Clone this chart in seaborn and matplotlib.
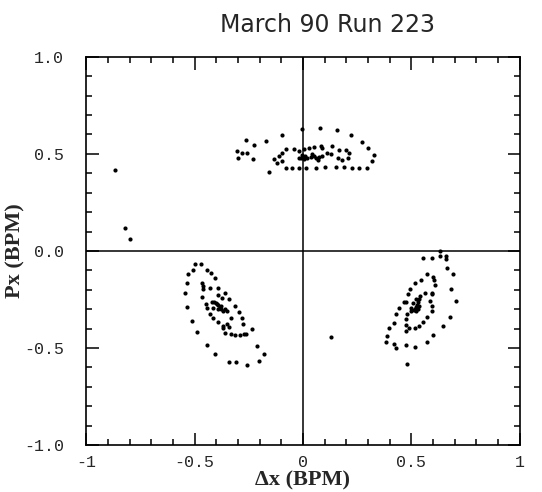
# phase space plot of the three islands, march 90 run 223
import matplotlib.pyplot as plt
import numpy as np
import pandas as pd
import seaborn as sns
from matplotlib.ticker import MultipleLocator

# island near (0, 0.5)
top_x = [-0.265, -0.227, -0.172, -0.097, -0.005, 0.079, 0.158, 0.223, 0.274,
         0.302, 0.329, 0.320, 0.297, 0.260, 0.227, 0.190, 0.153, 0.102, 0.060,
         0.014, -0.019, -0.051, -0.079, -0.158, -0.306, -0.283, -0.260, -0.302,
         -0.232, -0.135, -0.111, -0.097, -0.079, -0.042, -0.019, 0.005, 0.028,
         0.051, 0.084, 0.135, 0.167, 0.200, 0.213, 0.209, 0.181, 0.162, 0.130,
         0.111, 0.088, -0.019, 0.005, -0.097, -0.121,
         0.0, 0.01, 0.02, 0.035, 0.05, 0.06, 0.075, 0.09, -0.01, 0.04, 0.07,
         -0.005]
top_y = [0.572, 0.546, 0.567, 0.598, 0.629, 0.634, 0.624, 0.598, 0.562,
         0.531, 0.495, 0.464, 0.428, 0.428, 0.428, 0.433, 0.433, 0.433, 0.428,
         0.428, 0.428, 0.428, 0.428, 0.407, 0.515, 0.505, 0.505, 0.479,
         0.474, 0.474, 0.490, 0.505, 0.526, 0.526, 0.515, 0.526, 0.531,
         0.536, 0.541, 0.541, 0.521, 0.521, 0.505, 0.479, 0.469, 0.479, 0.500,
         0.505, 0.531, 0.479, 0.474, 0.464, 0.454,
         0.485, 0.49, 0.48, 0.485, 0.49, 0.48, 0.485, 0.49, 0.48, 0.50, 0.47,
         0.495]

# island lower left
left_x = [-0.498, -0.472, -0.509, -0.444, -0.424, -0.529, -0.405, -0.537,
          -0.542, -0.534, -0.512, -0.487, -0.441, -0.405, -0.343, -0.308,
          -0.258, -0.204, -0.181, -0.212, -0.235, -0.263, -0.271, -0.289,
          -0.312, -0.331, -0.359,
          -0.463, -0.463, -0.464, -0.428, -0.393, -0.359, -0.394, -0.374,
          -0.343, -0.467, -0.447, -0.312, -0.297, -0.282, -0.278, -0.444,
          -0.428, -0.413, -0.393, -0.367, -0.343, -0.333, -0.351, -0.371,
          -0.413,
          -0.42, -0.41, -0.40, -0.39, -0.385, -0.38, -0.37, -0.36, -0.39,
          -0.38, -0.35, -0.395]
left_y = [-0.069, -0.069, -0.098, -0.096, -0.112, -0.117, -0.138, -0.163,
          -0.215, -0.287, -0.361, -0.419, -0.485, -0.532, -0.572, -0.571,
          -0.588, -0.567, -0.529, -0.490, -0.404, -0.429, -0.429, -0.433,
          -0.433, -0.429, -0.424,
          -0.180, -0.197, -0.165, -0.192, -0.189, -0.215, -0.227, -0.244,
          -0.249, -0.237, -0.272, -0.284, -0.313, -0.344, -0.378, -0.295,
          -0.323, -0.347, -0.366, -0.387, -0.392, -0.344, -0.378, -0.395,
          -0.292,
          -0.265, -0.265, -0.27, -0.28, -0.29, -0.30, -0.31, -0.30, -0.30,
          -0.285, -0.31, -0.275]

# island lower right
right_x = [0.631, 0.631, 0.659, 0.662, 0.597, 0.554, 0.665, 0.690, 0.685,
           0.704, 0.677, 0.646, 0.600, 0.572, 0.515, 0.473, 0.430, 0.418,
           0.384, 0.387, 0.399, 0.419, 0.427, 0.445, 0.465, 0.484, 0.492,
           0.515, 0.543, 0.574, 0.600, 0.603, 0.608, 0.481,
           0.561, 0.593, 0.597, 0.585, 0.593, 0.593, 0.574, 0.554, 0.534,
           0.515, 0.489, 0.477, 0.477, 0.473, 0.479, 0.473, 0.500, 0.507,
           0.520, 0.538,
           0.535, 0.53, 0.525, 0.52, 0.515, 0.51, 0.52, 0.53, 0.535, 0.50]
right_y = [0.000, -0.026, -0.026, -0.043, -0.038, -0.038, -0.086, -0.120,
           -0.197, -0.258, -0.340, -0.387, -0.433, -0.469, -0.495, -0.486,
           -0.502, -0.478, -0.469, -0.438, -0.395, -0.370, -0.323, -0.295,
           -0.261, -0.223, -0.197, -0.163, -0.151, -0.117, -0.132, -0.151,
           -0.175, -0.581,
           -0.215, -0.215, -0.223, -0.258, -0.284, -0.309, -0.340, -0.364,
           -0.387, -0.395, -0.395, -0.412, -0.381, -0.352, -0.323, -0.261,
           -0.292, -0.266, -0.249, -0.234,
           -0.25, -0.265, -0.28, -0.29, -0.30, -0.305, -0.31, -0.30, -0.285,
           -0.31]

# stray points
stray_x = [-0.866, -0.823, -0.797, 0.130]
stray_y = [0.416, 0.120, 0.060, -0.443]

xticks = [-1, -0.5, 0, 0.5, 1]
xtick_labels = ["-1", "-0.5", "0", "0.5", "1"]
yticks = [-1, -0.5, 0, 0.5, 1]
ytick_labels = ["-1.0", "-0.5", "0.0", "0.5", "1.0"]

df = pd.concat(
    [
        pd.DataFrame({"dx": top_x, "px": top_y, "island": "top"}),
        pd.DataFrame({"dx": left_x, "px": left_y, "island": "left"}),
        pd.DataFrame({"dx": right_x, "px": right_y, "island": "right"}),
        pd.DataFrame({"dx": stray_x, "px": stray_y, "island": "stray"}),
    ],
    ignore_index=True,
)

sns.set_style("ticks")
plt.rcParams["font.family"] = ["DejaVu Sans"]

fig = plt.figure(figsize=(5.42, 4.92), dpi=100)
ax = fig.add_axes([0.159, 0.0955, 0.80, 0.789])

sns.scatterplot(
    data=df, x="dx", y="px", color="black", s=9, linewidth=0, ax=ax,
    legend=False,
)
ax.axhline(0, color="black", lw=1.1, zorder=0)
ax.axvline(0, color="black", lw=1.1, zorder=0)

ax.set_xticks(xticks, xtick_labels, family="Liberation Mono", fontsize=12)
ax.set_yticks(yticks, ytick_labels, family="Liberation Mono", fontsize=12)
ax.xaxis.set_minor_locator(MultipleLocator(0.1))
ax.yaxis.set_minor_locator(MultipleLocator(0.1))
ax.set_xlim(-1, 1)
ax.set_ylim(-1, 1)
ax.tick_params(which="both", direction="in", top=True, right=True,
               color="black", width=1.1)
ax.tick_params(which="major", length=9)
ax.tick_params(which="minor", length=4.5)
ax.tick_params(axis="x", which="major", pad=7)
ax.tick_params(axis="y", which="major", pad=16)
for sp in ax.spines.values():
    sp.set_color("black")
    sp.set_linewidth(1.2)

ax.set_xlabel("Δx (BPM)", family="Liberation Serif", fontsize=16,
              fontweight="bold")
ax.set_ylabel("Px (BPM)", family="Liberation Serif", fontsize=16,
              fontweight="bold")
ax.xaxis.set_label_coords(0.5, -0.066)
ax.yaxis.set_label_coords(-0.14, 0.5)

fig.text(327 / 542, 1 - 25 / 492, "March 90 Run 223", ha="center",
         va="center", fontsize=17)

fig.savefig("out.png", dpi=100, facecolor="white")
